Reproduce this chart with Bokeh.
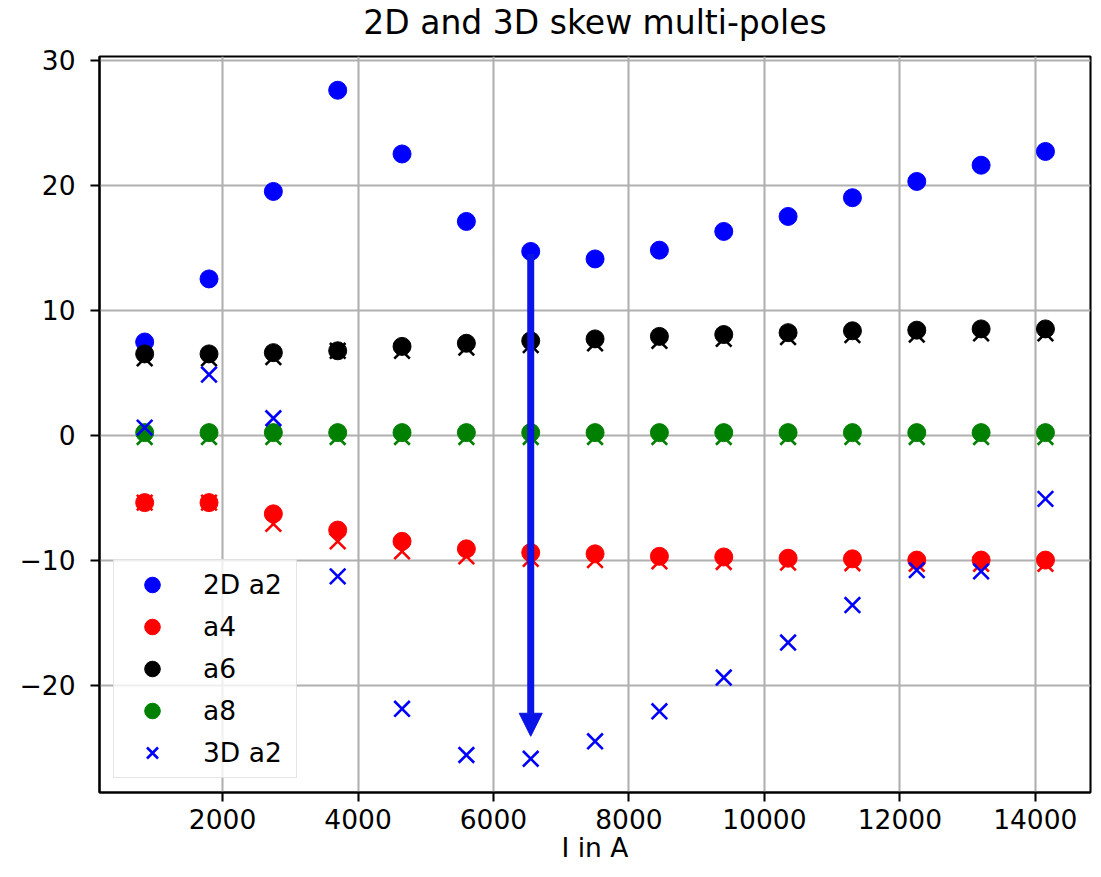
from bokeh.plotting import figure
from bokeh.models import (Range1d, FixedTicker, CustomJSTickFormatter, Legend, LegendItem,
                          Arrow, NormalHead, Title)
from bokeh.embed import file_html
from bokeh.resources import INLINE

# ---------------- data ----------------
current = [850, 1800, 2750, 3700, 4650, 5600, 6550, 7500, 8450, 9400, 10350, 11300, 12250, 13200, 14150]

a2_2d = [7.45, 12.5, 19.5, 27.6, 22.5, 17.1, 14.7, 14.1, 14.8, 16.3, 17.5, 19.0, 20.3, 21.6, 22.7]
a4_2d = [-5.4, -5.4, -6.3, -7.6, -8.5, -9.1, -9.4, -9.5, -9.7, -9.75, -9.85, -9.9, -10.0, -10.0, -10.0]
a6_2d = [6.5, 6.5, 6.6, 6.75, 7.1, 7.35, 7.55, 7.7, 7.9, 8.05, 8.2, 8.35, 8.4, 8.5, 8.5]
a8_2d = [0.2, 0.2, 0.2, 0.2, 0.2, 0.2, 0.2, 0.2, 0.2, 0.2, 0.2, 0.2, 0.2, 0.2, 0.2]

a2_3d = [0.6, 4.85, 1.35, -11.3, -21.9, -25.6, -25.9, -24.5, -22.1, -19.4, -16.6, -13.6, -10.8, -10.9, -5.1]
a4_3d = [-5.4, -5.4, -7.1, -8.5, -9.3, -9.7, -9.9, -10.0, -10.1, -10.15, -10.2, -10.25, -10.3, -10.3, -10.3]
a6_3d = [6.15, 6.15, 6.25, 6.75, 6.75, 7.0, 7.2, 7.35, 7.55, 7.7, 7.85, 8.0, 8.05, 8.15, 8.15]
a8_3d = [-0.15, -0.15, -0.15, -0.15, -0.15, -0.15, -0.15, -0.15, -0.15, -0.15, -0.15, -0.15, -0.15, -0.15, -0.15]

legend_labels = ["2D a2", "a4", "a6", "a8", "3D a2"]
x_ticks = [2000, 4000, 6000, 8000, 10000, 12000, 14000]
y_ticks = [-20, -10, 0, 10, 20, 30]
x_label = "I in A"
title_text = "2D and 3D skew multi-poles"

arrow_x = 6550
arrow_y_start = 14.5
arrow_y_end = -24.1

# ---------------- figure ----------------
FONT = "DejaVu Sans"
FS = "26.5px"
LW = 2.1
p = figure(width=1093, height=869,
           x_range=Range1d(183, 14815), y_range=Range1d(-28.6, 30.3),
           output_backend="svg", toolbar_location=None,
           min_border_left=99, min_border_right=3, min_border_top=55, min_border_bottom=77,
           title=title_text)

p.background_fill_color = "white"
p.border_fill_color = "white"
p.outline_line_color = "black"
p.outline_line_width = LW

p.title.align = "center"
p.title.vertical_align = "bottom"
p.title.text_font = FONT
p.title.text_font_size = "33px"
p.title.text_font_style = "normal"
p.title.text_color = "black"
p.title.standoff = 0
# small empty spacer between the title and the frame
p.add_layout(Title(text=" ", text_font_size="1px", standoff=12), "above")

fmt = CustomJSTickFormatter(code="return tick.toString().replace('-', '\\u2212');")
for ax, ticks in ((p.xaxis[0], x_ticks), (p.yaxis[0], y_ticks)):
    ax.ticker = FixedTicker(ticks=ticks)
    ax.formatter = fmt
    ax.major_label_text_font = FONT
    ax.major_label_text_font_size = FS
    ax.major_label_text_color = "black"
    ax.axis_line_color = "black"
    ax.axis_line_width = LW
    ax.major_tick_line_color = "black"
    ax.major_tick_line_width = LW
    ax.major_tick_out = 9
    ax.major_tick_in = 0
    ax.minor_tick_line_color = None

p.yaxis.major_label_standoff = 15
p.xaxis.major_label_standoff = 7
p.xaxis.axis_label = x_label
p.xaxis.axis_label_text_font = FONT
p.xaxis.axis_label_text_font_size = FS
p.xaxis.axis_label_text_font_style = "normal"
p.xaxis.axis_label_text_color = "black"
p.xaxis.axis_label_standoff = 0

p.xgrid.ticker = FixedTicker(ticks=x_ticks)
p.ygrid.ticker = FixedTicker(ticks=y_ticks)
for g in (p.xgrid[0], p.ygrid[0]):
    g.grid_line_color = "#b0b0b0"
    g.grid_line_width = LW

# ---------------- glyphs ----------------
CS = 18
XS = 22
XW = 2.6
# unlabeled 3D higher orders (drawn below circles)
p.scatter(current, a4_3d, marker="x", size=XS, line_color="red", line_width=XW)
p.scatter(current, a6_3d, marker="x", size=XS, line_color="black", line_width=XW)
p.scatter(current, a8_3d, marker="x", size=XS, line_color="green", line_width=XW)

r_a2 = p.scatter(current, a2_2d, marker="circle", size=CS, color="blue")
r_a4 = p.scatter(current, a4_2d, marker="circle", size=CS, color="red")
r_a6 = p.scatter(current, a6_2d, marker="circle", size=CS, color="black")
r_a8 = p.scatter(current, a8_2d, marker="circle", size=CS, color="green")
r_3d = p.scatter(current, a2_3d, marker="x", size=XS, line_color="blue", line_width=XW)

p.add_layout(Arrow(x_start=arrow_x, y_start=arrow_y_start, x_end=arrow_x, y_end=arrow_y_end,
                   line_color="#0a14e6", line_width=7,
                   end=NormalHead(size=23, fill_color="#0a14e6", line_color="#0a14e6", line_width=1)))

legend = Legend(items=[LegendItem(label=lab, renderers=[r])
                       for lab, r in zip(legend_labels, [r_a2, r_a4, r_a6, r_a8, r_3d])],
                location=(14, 14), margin=0)
legend.label_text_font = FONT
legend.label_text_font_size = FS
legend.label_text_color = "black"
legend.glyph_width = 66
legend.glyph_height = 39
legend.label_height = 39
legend.label_width = 88
legend.label_standoff = 18
legend.spacing = 3
legend.padding = 5
legend.background_fill_color = "white"
legend.background_fill_alpha = 0.8
legend.border_line_color = "#cccccc"
legend.border_line_width = 1.5
p.add_layout(legend, "center")

open("out.html", "w").write(file_html(p, INLINE))
